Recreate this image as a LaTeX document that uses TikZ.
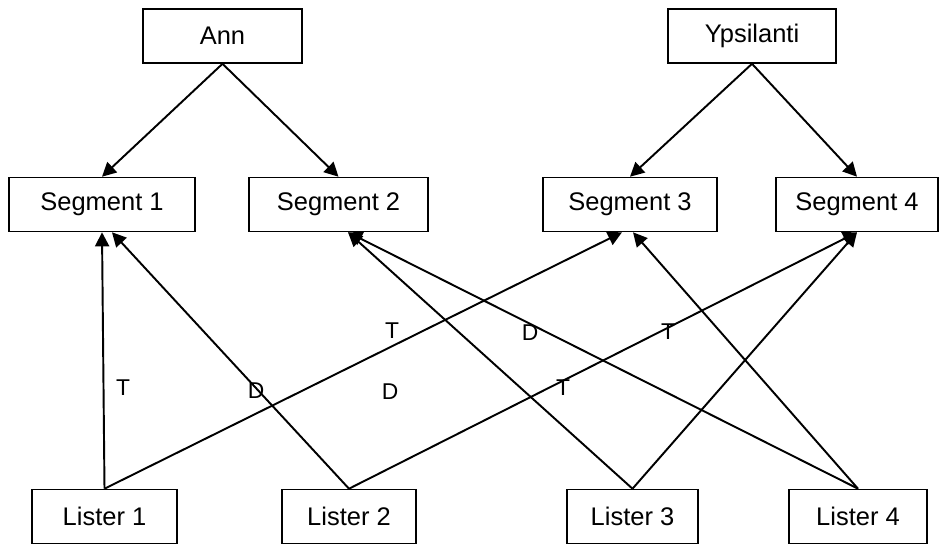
\documentclass[tikz,border=0pt]{standalone}
\usepackage{fontspec}
\setmainfont{Liberation Sans}
\usepackage{tikz}
\usetikzlibrary{arrows.meta,calc}
\newcommand{\bh}{1.08cm}

\begin{document}
\begin{tikzpicture}[
  box/.style={draw,line width=0.9pt,minimum height=\bh,inner sep=0pt,font=\fontsize{14.5}{17}\selectfont},
  arr/.style={line width=1.1pt,-{Triangle[length=8pt,width=8pt]}},
  lbl/.style={font=\fontsize{13}{15}\selectfont}]
\useasboundingbox (0,0) rectangle (18.8,10.9);
\node[box,minimum width=3.18cm] (ann) at (4.45,10.18) {Ann};
\node[box,minimum width=3.36cm] (yps) at (15.04,10.18) {Ypsilanti};
\node[box,minimum width=3.72cm] (s1) at (2.04,6.81) {Segment 1};
\node[box,minimum width=3.58cm] (s2) at (6.77,6.81) {Segment 2};
\node[box,minimum width=3.48cm] (s3) at (12.6,6.81) {Segment 3};
\node[box,minimum width=3.24cm] (s4) at (17.14,6.81) {Segment 4};
\node[box,minimum width=2.90cm] (l1) at (2.09,0.57) {Lister 1};
\node[box,minimum width=2.68cm] (l2) at (6.98,0.57) {Lister 2};
\node[box,minimum width=2.62cm] (l3) at (12.65,0.57) {Lister 3};
\node[box,minimum width=2.76cm] (l4) at (17.16,0.57) {Lister 4};

\draw[arr] (ann.south) -- (s1.north);
\draw[arr] (ann.south) -- (s2.north);
\draw[arr] (yps.south) -- (s3.north);
\draw[arr] (yps.south) -- (s4.north);

\coordinate (s1b) at ($(s1.south)+(0.2,0)$);
\coordinate (s2b) at ($(s2.south)+(0.19,0)$);
\coordinate (s3a) at ($(s3.south)+(-0.16,0)$);
\coordinate (s3b) at ($(s3.south)+(0.06,0)$);

\draw[arr] (l1.north) -- (s1.south);
\draw[arr] (l1.north) -- (s3a);
\draw[arr] (l2.north) -- (s1b);
\draw[arr] (l2.north) -- (s4.south);
\draw[arr] (l3.north) -- (s2b);
\draw[arr] (l3.north) -- (s4.south);
\draw[arr] (l4.north) -- (s2b);
\draw[arr] (l4.north) -- (s3b);

\node[lbl] (t1) at (2.46,3.14) {T};
\node[lbl] (d1) at (5.12,3.08) {D};
\node[lbl] (d2) at (7.80,3.06) {D};
\node[lbl] (t2) at (7.84,4.28) {T};
\node[lbl] (d3) at (10.60,4.24) {D};
\node[lbl] (t3) at (13.36,4.26) {T};
\node[lbl] (t4) at (11.26,3.14) {T};
\end{tikzpicture}
\end{document}
